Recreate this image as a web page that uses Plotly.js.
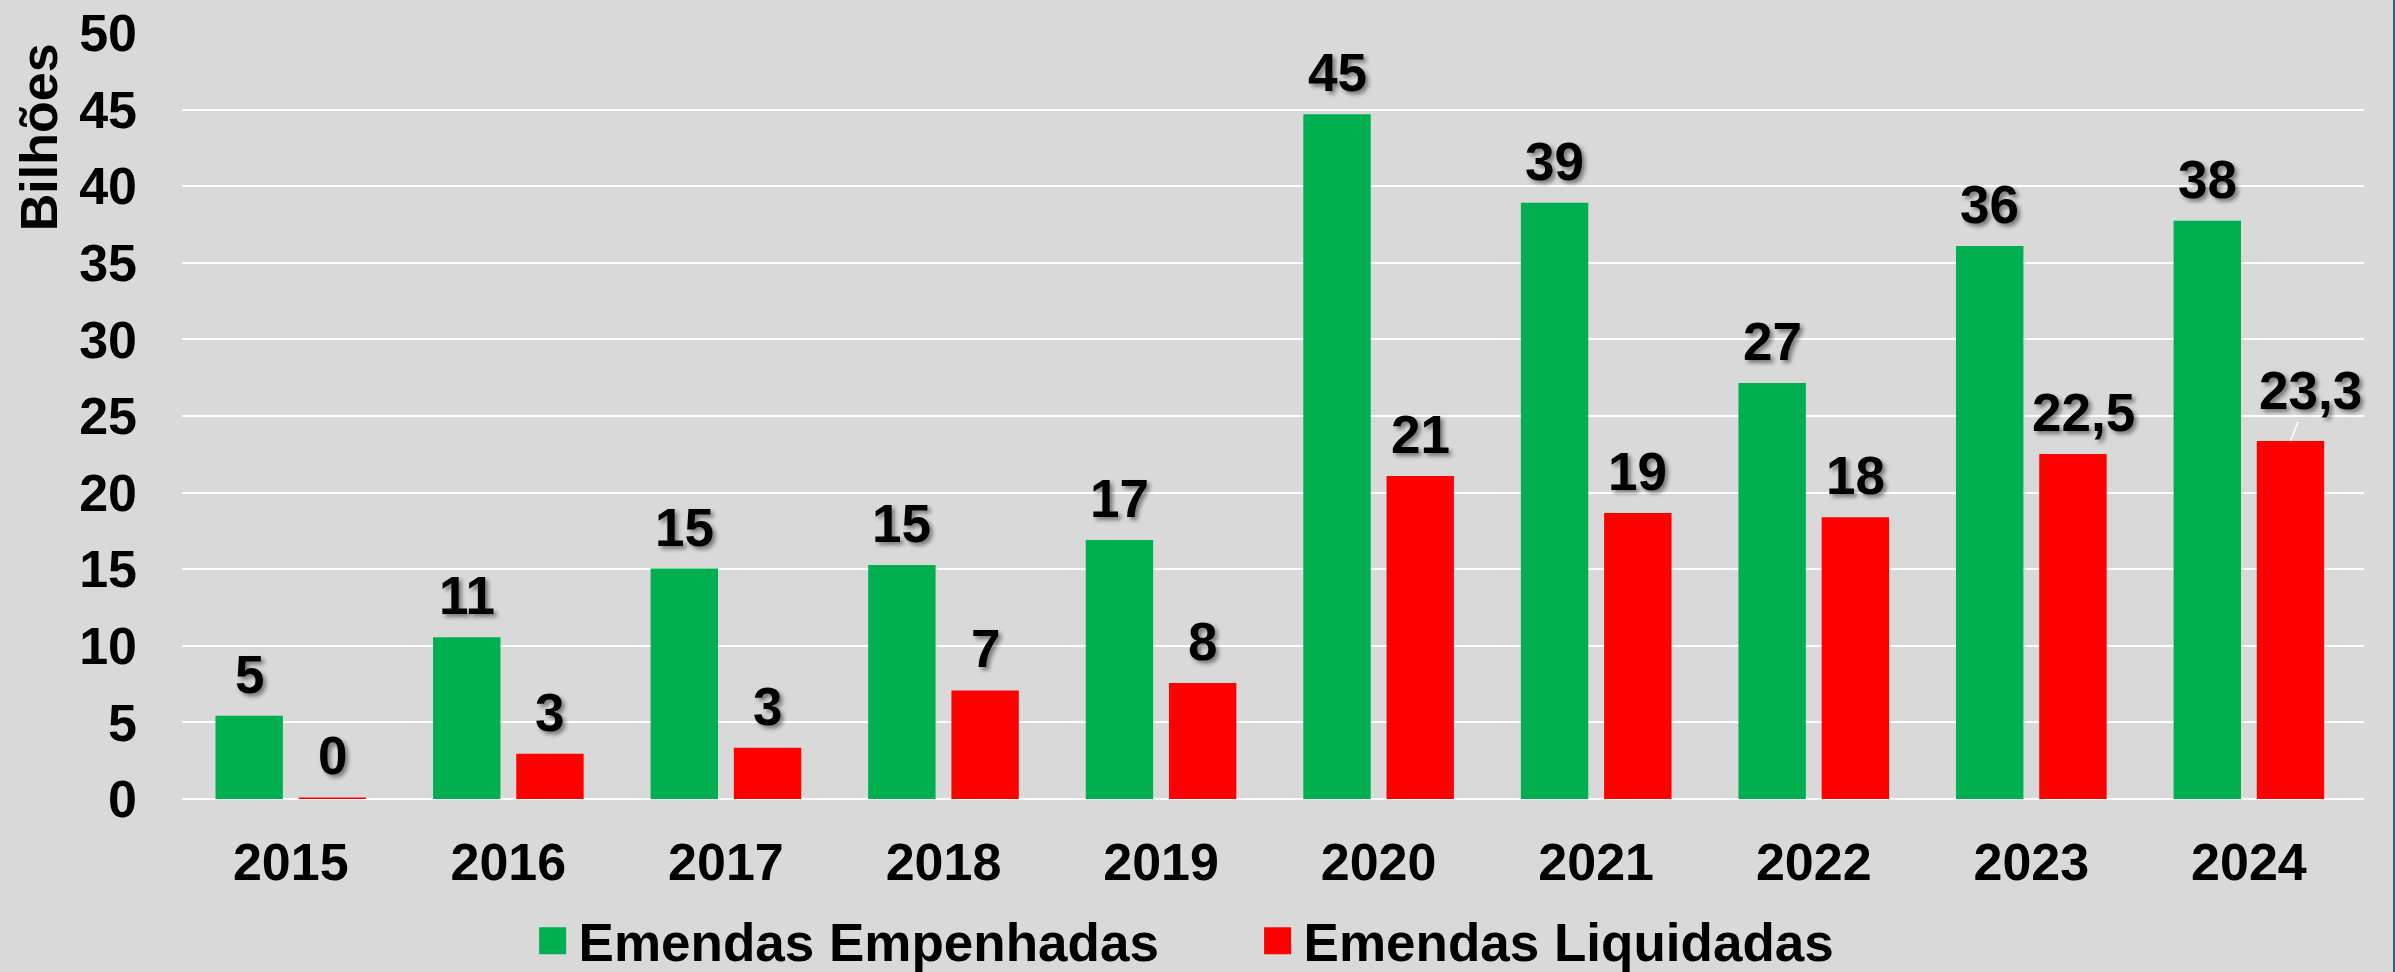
<!DOCTYPE html>
<html>
<head>
<meta charset="utf-8">
<script src="https://cdn.plot.ly/plotly-3.0.1.min.js"></script>
<style>
  html, body { margin: 0; padding: 0; background: #D9D9D9; overflow: hidden; }
  #wrap { position: relative; width: 2395px; height: 972px; }
  #chart { width: 2395px; height: 972px; }
  #edge { position: absolute; top: 0; right: 0; width: 2px; height: 972px; background: #2F5F8F; }
</style>
</head>
<body>
<div id="wrap"><div id="chart"></div><div id="edge"></div></div>
<script>
// ---- data ----
const years = ['2015','2016','2017','2018','2019','2020','2021','2022','2023','2024'];
const empenhadas = [5.44, 10.55, 15.04, 15.27, 16.9, 44.7, 38.92, 27.15, 36.1, 37.75];
const liquidadas = [0.1, 2.96, 3.34, 7.09, 7.57, 21.08, 18.67, 18.39, 22.52, 23.37];
const labelsEmp = ['5','11','15','15','17','45','39','27','36','38'];
const labelsLiq = ['0','3','3','7','8','21','19','18','22,5','23,3'];
const seriesNames = ['Emendas Empenhadas', 'Emendas Liquidadas'];
const yTicks = [0,5,10,15,20,25,30,35,40,45,50];

// ---- style ----
const GREEN = '#00B050', RED = '#FF0000';
const FONT = 'Liberation Sans, Arial, Helvetica, sans-serif';
const bargap = 0.235, bargroupgap = 0.19;
const barOffset = (1 - bargap) / 4;
const labelFont = { family: FONT, size: 53, color: '#000', weight: 'bold',
                    shadow: '3px 3px 4px rgba(0,0,0,0.45)' };
const labelNudge = { 8: { xshift: 11 }, 9: { arrow: true, ax: 20, ay: -50 } };

const traces = [
  { type: 'bar', x: years, y: empenhadas, name: seriesNames[0],
    marker: { color: GREEN }, hoverinfo: 'skip' },
  { type: 'bar', x: years, y: liquidadas, name: seriesNames[1],
    marker: { color: RED }, hoverinfo: 'skip' }
];

const annotations = [];
years.forEach((yr, i) => {
  annotations.push({
    xref: 'x', yref: 'y', x: i - barOffset, y: empenhadas[i],
    text: labelsEmp[i], showarrow: false, yanchor: 'bottom', yshift: 10,
    font: labelFont
  });
  const n = labelNudge[i] || {};
  if (n.arrow) {
    annotations.push({
      xref: 'x', yref: 'y', x: i + barOffset, y: liquidadas[i],
      text: labelsLiq[i], showarrow: true, arrowhead: 0, arrowwidth: 1.5,
      arrowcolor: '#FFFFFF', ax: n.ax, ay: n.ay, standoff: 0,
      font: labelFont
    });
  } else {
    annotations.push({
      xref: 'x', yref: 'y', x: i + barOffset, y: liquidadas[i],
      text: labelsLiq[i], showarrow: false, yanchor: 'bottom', yshift: 10,
      xshift: n.xshift || 0, font: labelFont
    });
  }
});

// y axis title (placed near the top, as in the original)
annotations.push({
  xref: 'paper', yref: 'paper', x: -0.0655, y: 0.864,
  text: 'Bilhões', textangle: -90, showarrow: false,
  xanchor: 'center', yanchor: 'middle',
  font: { family: FONT, size: 52, color: '#000', weight: 'bold' }
});

const layout = {
  width: 2395, height: 972,
  margin: { l: 182, r: 31, t: 33, b: 173, autoexpand: false },
  paper_bgcolor: '#D9D9D9', plot_bgcolor: '#D9D9D9',
  barmode: 'group', bargap: bargap, bargroupgap: bargroupgap,
  showlegend: true,
  legend: {
    orientation: 'h', x: 0.4957, xanchor: 'center', y: -0.185, yanchor: 'middle',
    entrywidth: 680, entrywidthmode: 'pixels',
    font: { family: FONT, size: 53, color: '#000', weight: 'bold' },
    bgcolor: 'rgba(0,0,0,0)', itemclick: false, itemdoubleclick: false
  },
  xaxis: {
    type: 'category', tickvals: years, ticktext: years,
    showgrid: false, zeroline: false, showline: false, ticks: '',
    ticklabelstandoff: 28,
    tickfont: { family: FONT, size: 52, color: '#000', weight: 'bold' }
  },
  yaxis: {
    range: [0, 50], tickvals: yTicks, ticktext: yTicks.map(String),
    showgrid: true, gridcolor: '#FFFFFF', gridwidth: 2,
    zeroline: true, zerolinecolor: '#FFFFFF', zerolinewidth: 2,
    showline: false, ticks: '', ticklabelstandoff: 44,
    tickfont: { family: FONT, size: 52, color: '#000', weight: 'bold' }
  },
  annotations: annotations,
  hovermode: false
};

function bigLegendSymbols() {
  document.querySelectorAll('#chart .legendpoints path').forEach(p => {
    p.setAttribute('d', 'M7.5,13.5H-19.5V-13.5H7.5Z');
  });
}

Plotly.newPlot('chart', traces, layout, { displayModeBar: false, staticPlot: true })
  .then(gd => { bigLegendSymbols(); gd.on('plotly_afterplot', bigLegendSymbols); });
</script>
</body>
</html>
